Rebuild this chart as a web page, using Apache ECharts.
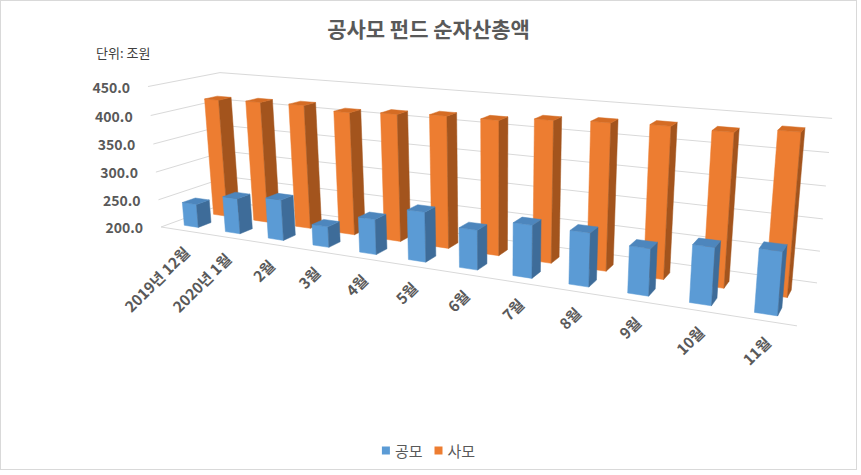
<!DOCTYPE html>
<html>
<head>
<meta charset="utf-8">
<title>공사모 펀드 순자산총액</title>
<script src="https://cdn.jsdelivr.net/npm/echarts@6/dist/echarts.min.js"></script>
<style>
  html, body { margin: 0; padding: 0; background: #fff; }
  #chart { width: 855px; height: 468px; border: 1px solid #d9d9d9; }
</style>
</head>
<body>
<div id="chart"></div>
<script>
// 데이터 (단위: 조원)
const months = ['2019년 12월', '2020년 1월', '2월', '3월', '4월', '5월', '6월', '7월', '8월', '9월', '10월', '11월'];
const publicFunds = [242.1, 263.0, 271.1, 235.6, 259.5, 282.6, 264.7, 284.1, 283.7, 272.1, 286.3, 292.9];
const privateFunds = [415.0, 417.6, 418.9, 413.4, 417.7, 421.9, 422.2, 429.4, 433.0, 435.5, 434.3, 442.4];
const yTicks = [200, 250, 300, 350, 400, 450];

const FONT = '"Noto Sans CJK KR", "Noto Sans", sans-serif';

// 3D 투영 (엑셀 3차원 세로 막대형처럼 보이게)
const CAM = {
  cx: 493, cy: 210, f: 1022,
  o: [-3.258, 0.1566, 10],
  ax: [0.9079, 0.1144, -0.4033],
  ay: [0, -0.962, -0.273],
  az: [0.4192, -0.2447, 0.8743]
};
const BOX = { w: 6.0564, h: 1.381, d: 1.0373 };

function camPoint(X, Y, Z) {
  return [0, 1, 2].map(k => CAM.o[k] + X * CAM.ax[k] + Y * CAM.ay[k] + Z * CAM.az[k]);
}
function project(X, Y, Z) {
  const p = camPoint(X, Y, Z);
  return [CAM.cx + CAM.f * p[0] / p[2], CAM.cy + CAM.f * p[1] / p[2]];
}
function camDist(X, Y, Z) {
  const p = camPoint(X, Y, Z);
  return Math.sqrt(p[0] * p[0] + p[1] * p[1] + p[2] * p[2]);
}

// 축 스케일 -> 3D 좌표
function toWorld(params, api, cat, value) {
  const rect = params.coordSys;
  const p = api.coord([cat, value]);
  return [
    (p[0] - rect.x) / rect.width * BOX.w,
    (rect.y + rect.height - p[1]) / rect.height * BOX.h
  ];
}

function barRenderer(z0, z1, colors) {
  return function (params, api) {
    const rect = params.coordSys;
    const w = toWorld(params, api, api.value(0), api.value(1));
    const band = api.size([1, 0])[0] / rect.width * BOX.w;
    const half = band * 0.345 / 2;
    const x0 = w[0] - half, x1 = w[0] + half, h = w[1];
    const order = Math.round(2000 - camDist(w[0], h / 2, (z0 + z1) / 2) * 100);
    const face = (pts, color) => ({
      type: 'polygon',
      shape: { points: pts.map(q => project(q[0], q[1], q[2])) },
      style: { fill: color, stroke: color, lineWidth: 0.5 },
      z2: order
    });
    return {
      type: 'group',
      children: [
        face([[x0, 0, z0], [x1, 0, z0], [x1, h, z0], [x0, h, z0]], colors[0]),
        face([[x1, 0, z0], [x1, 0, z1], [x1, h, z1], [x1, h, z0]], colors[2]),
        face([[x0, h, z0], [x1, h, z0], [x1, h, z1], [x0, h, z1]], colors[1])
      ]
    };
  };
}

// 벽 눈금선 + 값 라벨
function wallRenderer(params, api) {
  const v = api.value(1);
  const Y = toWorld(params, api, 0, v)[1];
  const a = project(0, Y, 0), b = project(0, Y, BOX.d), c = project(BOX.w, Y, BOX.d);
  const children = [
    { type: 'polyline', shape: { points: [a, b, c] }, style: { stroke: '#d9d9d9', lineWidth: 1, fill: null }, silent: true },
    { type: 'text', x: a[0] - 18, y: a[1], style: {
      text: v.toFixed(1), align: 'right', verticalAlign: 'middle',
      font: 'bold 14px ' + FONT, fill: '#595959' } }
  ];
  if (v === yTicks[0]) {
    const e = project(BOX.w, 0, 0);
    children.push({ type: 'line', shape: { x1: a[0], y1: a[1], x2: e[0], y2: e[1] },
      style: { stroke: '#d9d9d9', lineWidth: 1 } });
  }
  return { type: 'group', children: children };
}

// 가로축 라벨 (45도)
function catLabelRenderer(params, api) {
  const w = toWorld(params, api, api.value(0), yTicks[0]);
  const p = project(w[0], 0, 0);
  return {
    type: 'text', x: p[0] + 5, y: p[1] + 19, rotation: Math.PI / 4,
    style: { text: months[api.value(0)], align: 'right', verticalAlign: 'middle',
      font: 'bold 15px ' + FONT, fill: '#595959' }
  };
}

const chart = echarts.init(document.getElementById('chart'), null, { renderer: 'svg' });
chart.setOption({
  animation: false,
  backgroundColor: '#fff',
  title: [
    { text: '공사모 펀드 순자산총액', left: 'center', top: 11,
      textStyle: { fontFamily: FONT, fontSize: 21, fontWeight: 'bold', color: '#595959' } },
    { text: '단위: 조원', left: 90, top: 40,
      textStyle: { fontFamily: FONT, fontSize: 13, fontWeight: 'normal', color: '#404040' } }
  ],
  legend: {
    bottom: 6, left: 'center', icon: 'rect', itemWidth: 8, itemHeight: 8, itemGap: 12,
    textStyle: { fontFamily: FONT, fontSize: 15, color: '#595959' },
    data: ['공모', '사모']
  },
  grid: { left: 100, right: 100, top: 100, bottom: 100 },
  xAxis: { type: 'category', data: months, show: false },
  yAxis: { type: 'value', min: 200, max: 450, interval: 50, show: false },
  series: [
    {
      name: '공모', type: 'custom', coordinateSystem: 'cartesian2d', z: 3,
      itemStyle: { color: '#5b9bd5' },
      renderItem: barRenderer(0.143, 0.331, ['#5b9bd5', '#4d86bd', '#3e6c99']),
      data: publicFunds.map((v, i) => [i, v])
    },
    {
      name: '사모', type: 'custom', coordinateSystem: 'cartesian2d', z: 3,
      itemStyle: { color: '#ed7d31' },
      renderItem: barRenderer(0.58, 0.77, ['#ed7d31', '#d56c24', '#a3541d']),
      data: privateFunds.map((v, i) => [i, v])
    },
    {
      name: 'walls', type: 'custom', coordinateSystem: 'cartesian2d', z: 1, silent: true,
      renderItem: wallRenderer,
      data: yTicks.map(v => [0, v])
    },
    {
      name: 'labels', type: 'custom', coordinateSystem: 'cartesian2d', z: 1, silent: true,
      renderItem: catLabelRenderer,
      data: months.map((m, i) => [i, yTicks[0]])
    }
  ]
});
</script>
</body>
</html>
